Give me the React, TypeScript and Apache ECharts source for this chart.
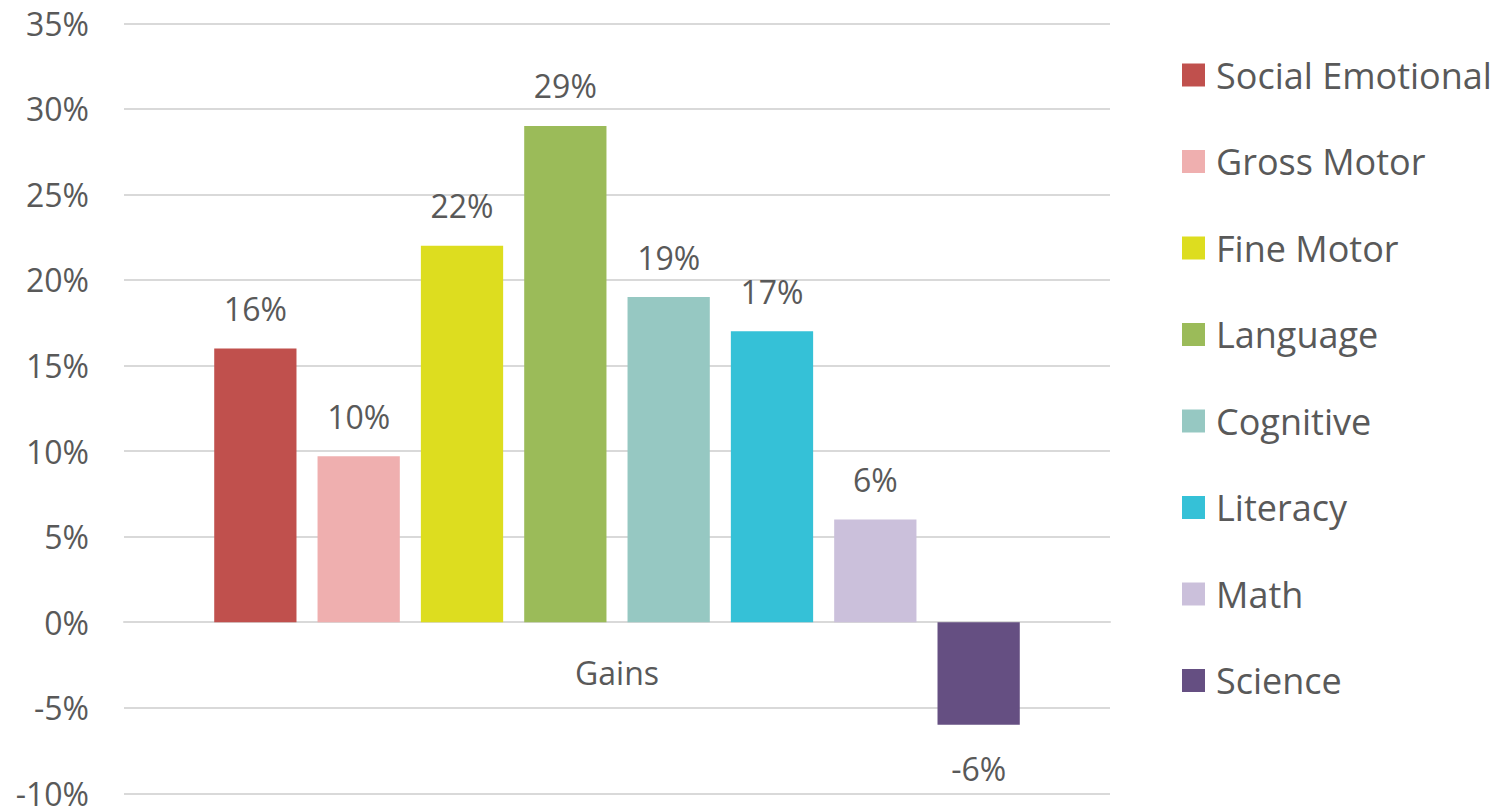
import React, { useEffect, useRef } from "react";
import * as echarts from "echarts";

const categories = ["Gains"];
const seriesNames = [
  "Social Emotional",
  "Gross Motor",
  "Fine Motor",
  "Language",
  "Cognitive",
  "Literacy",
  "Math",
  "Science",
];
const seriesValues = [16, 9.7, 22, 29, 19, 17, 6, -6];
const seriesColors = [
  "#C0504D",
  "#EFAFAF",
  "#DDDD1F",
  "#9BBB59",
  "#96C8C2",
  "#35C1D7",
  "#CBC0DB",
  "#654F82",
];
const yMin = -10;
const yMax = 35;
const yStep = 5;

const FONT = "Open Sans";
const TEXT = "#595959";

const GRID_TOP = 23.3;
const GRID_BOTTOM_Y = 793.3;
const ZERO_Y = GRID_TOP + ((yMax - 0) / (yMax - yMin)) * (GRID_BOTTOM_Y - GRID_TOP);

export default function App() {
  const ref = useRef<HTMLDivElement>(null);
  useEffect(() => {
    if (!ref.current) return;
    const chart = echarts.init(ref.current, undefined, { renderer: "svg" });
    const series = seriesNames.map((name, i) => {
      const v = seriesValues[i];
      const neg = v < 0;
      return {
        name,
        type: "bar",
        data: [v],
        barGap: "25.6%",
        barCategoryGap: "18.3%",
        itemStyle: { color: seriesColors[i] },
        label: {
          show: true,
          position: neg ? "bottom" : "top",
          distance: neg ? 28 : 24,
          formatter: (p: any) => `${Math.round(p.value)}%`,
          color: TEXT,
          fontFamily: FONT,
          fontSize: 32,
        },
      };
    });
    chart.setOption({
      animation: false,
      backgroundColor: "#FFFFFF",
      grid: {
        left: 124,
        right: 399,
        top: GRID_TOP,
        bottom: 809 - GRID_BOTTOM_Y,
        containLabel: false,
        outerBoundsMode: "none",
      },
      legend: {
        orient: "vertical",
        left: 1177,
        top: 50,
        icon: "rect",
        itemWidth: 23,
        itemHeight: 23,
        itemGap: 46.5,
        data: seriesNames,
        textStyle: {
          color: TEXT,
          fontFamily: FONT,
          fontSize: 36,
          lineHeight: 40,
          padding: [0, 0, 0, 6],
        },
      },
      xAxis: {
        type: "category",
        data: categories,
        position: "bottom",
        offset: -(GRID_BOTTOM_Y - ZERO_Y),
        axisLine: { show: true, onZero: false, lineStyle: { color: "#D9D9D9", width: 2 } },
        axisTick: { show: false },
        axisLabel: { color: TEXT, fontFamily: FONT, fontSize: 32, margin: 34 },
        splitLine: { show: false },
      },
      yAxis: {
        type: "value",
        min: yMin,
        max: yMax,
        interval: yStep,
        axisLine: { show: false },
        axisTick: { show: false },
        axisLabel: {
          color: TEXT,
          fontFamily: FONT,
          fontSize: 32,
          margin: 35,
          formatter: (v: number) => `${v}%`,
        },
        splitLine: { lineStyle: { color: "#D9D9D9", width: 2 } },
      },
      series,
    });
    return () => chart.dispose();
  }, []);
  return (
    <div
      ref={ref}
      style={{ position: "fixed", left: 0, top: 0, width: 1509, height: 809, background: "#fff" }}
    />
  );
}
